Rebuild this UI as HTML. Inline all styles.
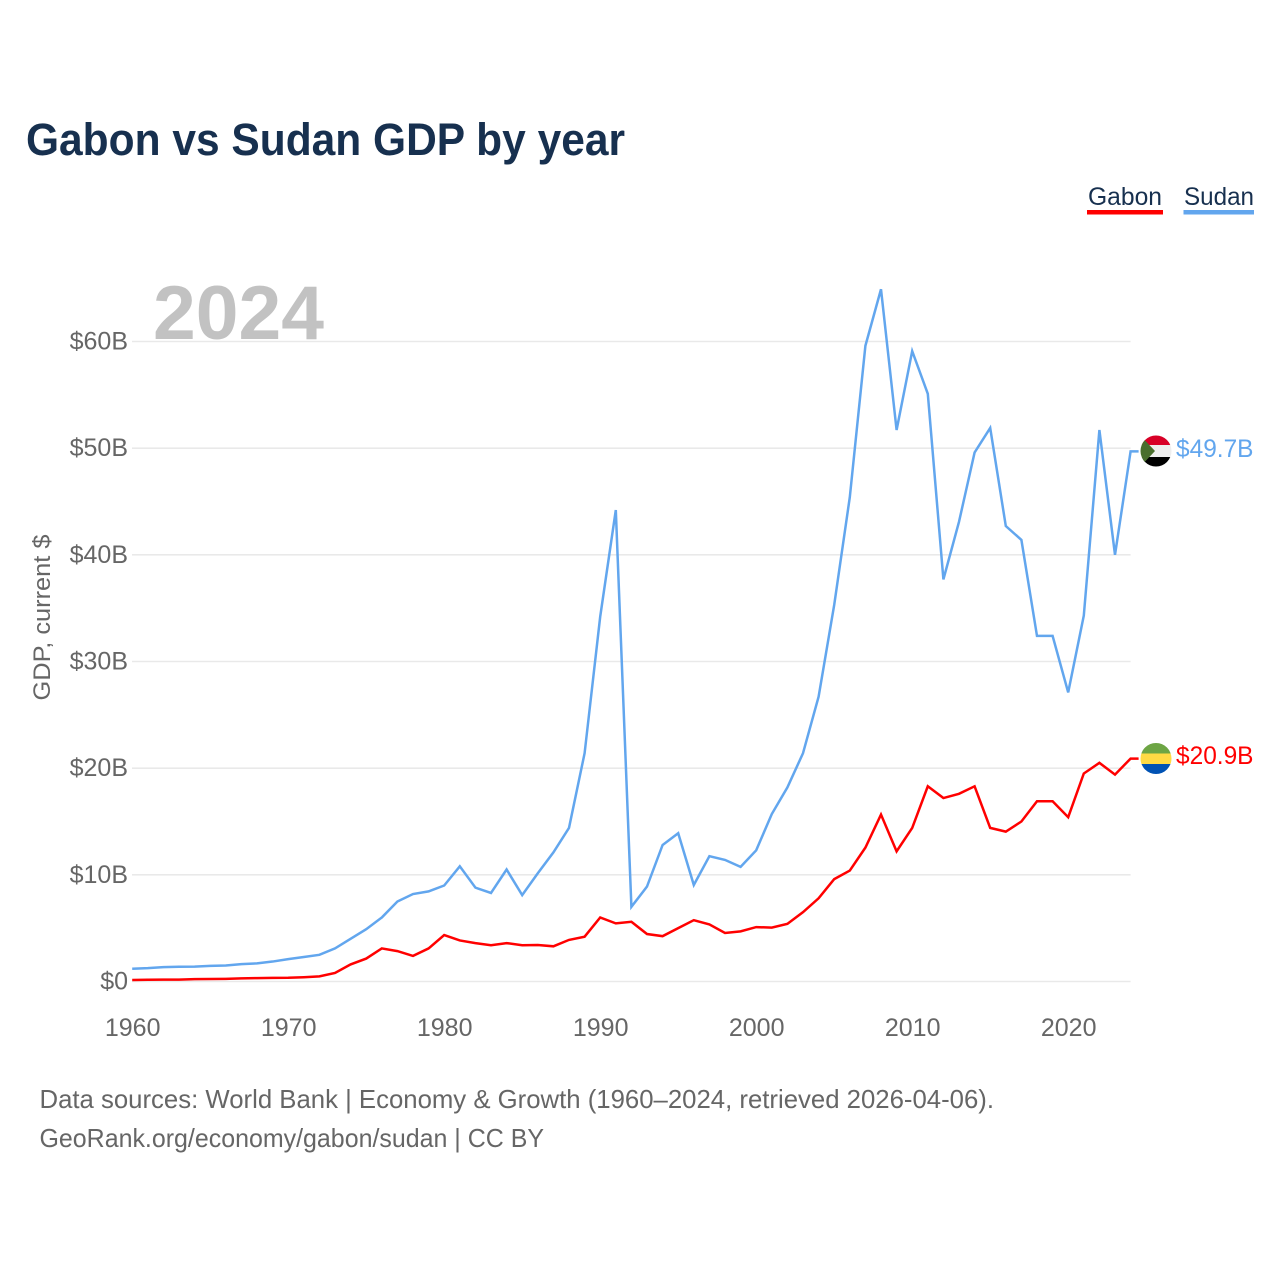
<!DOCTYPE html>
<html lang="en">
<head>
<meta charset="utf-8">
<title>Gabon vs Sudan GDP by year</title>
<style>
html,body{margin:0;padding:0;background:#fff;width:1280px;height:1280px;overflow:hidden}
svg{display:block}
text{font-family:"Liberation Sans",sans-serif}
</style>
</head>
<body>
<svg id="chart" xmlns="http://www.w3.org/2000/svg" width="1280" height="1280" viewBox="0 0 1280 1280">
  <defs>
    <clipPath id="clip-sudan"><circle cx="1156" cy="451" r="15.5"/></clipPath>
    <clipPath id="clip-gabon"><circle cx="1156" cy="758.5" r="15.5"/></clipPath>
  </defs>
  <text x="26" y="155" font-size="45" font-weight="700" fill="#17304f" textLength="599" lengthAdjust="spacingAndGlyphs">Gabon vs Sudan GDP by year</text>

  <g>
    <g>
      <text x="1088" y="205" font-size="25" fill="#17304f" textLength="74" lengthAdjust="spacingAndGlyphs">Gabon</text>
      <rect x="1087" y="210" width="76" height="4.5" fill="#ff0000"/>
    </g>
    <g>
      <text x="1184" y="205" font-size="25" fill="#17304f" textLength="70" lengthAdjust="spacingAndGlyphs">Sudan</text>
      <rect x="1183.5" y="210" width="70.5" height="4.5" fill="#62a6ee"/>
    </g>
  </g>

  <g id="grid"></g>
  <text x="153" y="339" font-size="76" font-weight="700" fill="#c2c2c2" textLength="171" lengthAdjust="spacingAndGlyphs">2024</text>
  <g id="y-ticks"></g>
  <g id="x-ticks"></g>
  <text transform="translate(50,617.5) rotate(-90)" text-anchor="middle" font-size="24" fill="#666666" textLength="166" lengthAdjust="spacingAndGlyphs">GDP, current $</text>

  <polyline id="line-sudan" fill="none" stroke="#62a6ee" stroke-width="2.5" stroke-linejoin="miter"/>
  <polyline id="line-gabon" fill="none" stroke="#ff0000" stroke-width="2.5" stroke-linejoin="miter"/>

  <g clip-path="url(#clip-sudan)">
    <rect x="1140" y="435" width="32" height="10" fill="#d80027"/>
    <rect x="1140" y="445" width="32" height="12" fill="#eeeeee"/>
    <rect x="1140" y="457" width="32" height="11" fill="#000000"/>
    <polygon points="1140,435 1140,467 1155,451" fill="#496e2d"/>
  </g>
  <g clip-path="url(#clip-gabon)">
    <rect x="1140" y="743" width="32" height="10.5" fill="#6da544"/>
    <rect x="1140" y="753.5" width="32" height="10.5" fill="#ffda44"/>
    <rect x="1140" y="764" width="32" height="10.5" fill="#0052b4"/>
  </g>
  <text x="1176" y="457" font-size="25" fill="#62a6ee" textLength="77.5" lengthAdjust="spacingAndGlyphs">$49.7B</text>
  <text x="1176" y="764" font-size="25" fill="#ff0000" textLength="77.5" lengthAdjust="spacingAndGlyphs">$20.9B</text>

  <text x="39.5" y="1108" font-size="26" fill="#666666" textLength="954.5" lengthAdjust="spacingAndGlyphs">Data sources: World Bank | Economy &amp; Growth (1960–2024, retrieved 2026-04-06).</text>
  <text x="39.5" y="1147" font-size="26" fill="#666666" textLength="504.5" lengthAdjust="spacingAndGlyphs">GeoRank.org/economy/gabon/sudan | CC BY</text>
</svg>
<script>
// GDP in billions of current US$, one value per year from 1960 through 2024
const startYear = 1960;
const sudanValues = [1.2,1.25,1.35,1.38,1.4,1.47,1.5,1.63,1.7,1.87,2.1,2.3,2.5,3.1,4.0,4.9,6.0,7.5,8.2,8.45,9.0,10.8,8.8,8.3,10.5,8.1,10.15,12.1,14.4,21.4,34.2,44.2,7.0,8.9,12.8,13.9,9.05,11.75,11.4,10.75,12.3,15.7,18.2,21.4,26.7,35.3,45.4,59.6,64.9,51.7,59.1,55.1,37.7,43.1,49.6,51.9,42.7,41.4,32.4,32.4,27.1,34.3,51.7,40.0,49.7];
const gabonValues = [0.14,0.16,0.18,0.18,0.22,0.24,0.25,0.29,0.32,0.34,0.35,0.4,0.48,0.8,1.6,2.15,3.1,2.85,2.4,3.1,4.35,3.85,3.6,3.4,3.6,3.4,3.42,3.3,3.9,4.2,6.0,5.45,5.6,4.45,4.25,5.0,5.75,5.35,4.55,4.7,5.1,5.05,5.4,6.5,7.8,9.6,10.4,12.55,15.65,12.2,14.4,18.3,17.2,17.6,18.3,14.4,14.05,15.0,16.9,16.9,15.4,19.5,20.5,19.4,20.9];
const yTickValues = [0,10,20,30,40,50,60];
const yTickLabels = ["$0","$10B","$20B","$30B","$40B","$50B","$60B"];
const xTickValues = [1960,1970,1980,1990,2000,2010,2020];

const NS = "http://www.w3.org/2000/svg";
function xScale(year){ return 132.2 + (year - 1960) * 15.6; }
function yScale(v){ return 981.5 - v * 10.6667; }

const grid = document.getElementById("grid");
const yTicks = document.getElementById("y-ticks");
const xTicks = document.getElementById("x-ticks");

yTickValues.forEach(function(v, i){
  const ln = document.createElementNS(NS, "line");
  
  
  ln.setAttribute("x1", 132);
  ln.setAttribute("x2", xScale(2024));
  ln.setAttribute("y1", yScale(v));
  ln.setAttribute("y2", yScale(v));
  ln.setAttribute("stroke", "#e9e9e9");
  ln.setAttribute("stroke-width", "1.6");
  grid.appendChild(ln);

  const t = document.createElementNS(NS, "text");
  
  
  t.setAttribute("x", 128);
  t.setAttribute("y", yScale(v) + 8);
  t.setAttribute("text-anchor", "end");
  t.setAttribute("font-size", "25");
  t.setAttribute("fill", "#666666");
  t.textContent = yTickLabels[i];
  yTicks.appendChild(t);
});

xTickValues.forEach(function(year){
  const t = document.createElementNS(NS, "text");
  
  
  t.setAttribute("x", xScale(year) + 0.5);
  t.setAttribute("y", 1036);
  t.setAttribute("text-anchor", "middle");
  t.setAttribute("font-size", "25");
  t.setAttribute("fill", "#666666");
  t.textContent = String(year);
  xTicks.appendChild(t);
});

function linePoints(values){
  const pts = values.map(function(v, i){
    return xScale(startYear + i).toFixed(2) + "," + yScale(v).toFixed(2);
  });
  // short flat connector from the final point toward the flag
  pts.push((xScale(startYear + values.length - 1) + 8).toFixed(2) + "," + yScale(values[values.length - 1]).toFixed(2));
  return pts.join(" ");
}
document.getElementById("line-sudan").setAttribute("points", linePoints(sudanValues));
document.getElementById("line-gabon").setAttribute("points", linePoints(gabonValues));
</script>
</body>
</html>
